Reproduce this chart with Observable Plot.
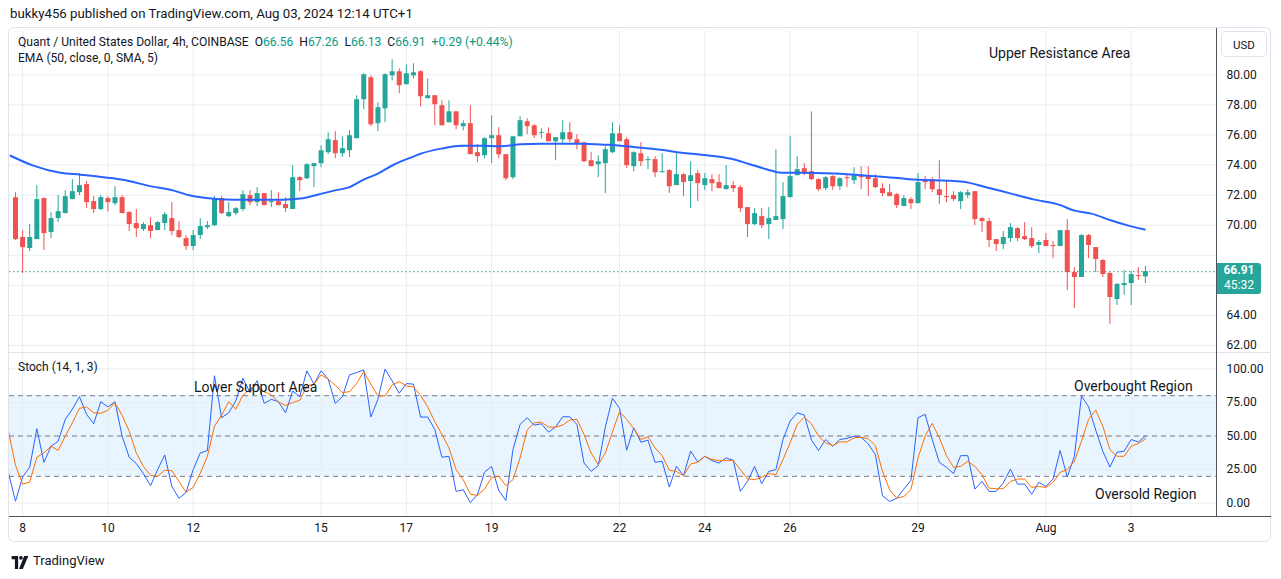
<!DOCTYPE html>
<html><head><meta charset="utf-8">
<script src="https://cdn.jsdelivr.net/npm/d3@7"></script>
<script src="https://cdn.jsdelivr.net/npm/@observablehq/plot@0.6"></script>
<style>
body{margin:0;background:#fff;font-family:Roboto,"Liberation Sans",sans-serif;color:#131722}
#wrap{position:relative;width:1281px;height:579px;overflow:hidden;background:#fff}
.abs{position:absolute;white-space:nowrap}
.ln{position:absolute}
</style></head><body><div id="wrap"></div>
<script>
// ---- data (4h candles, index 0 = first visible candle) ----
const open = [71.83,69.18,68.45,69.04,71.77,69.51,70.44,70.77,71.70,72.16,
72.70,71.57,71.04,71.77,71.43,71.83,70.84,70.11,69.71,69.97,
69.64,70.11,70.44,69.64,69.11,68.58,69.31,69.84,69.97,71.77,
70.57,70.77,71.04,71.97,71.50,72.10,71.50,71.57,71.37,71.04,
73.16,73.09,73.89,74.09,74.82,75.62,74.75,74.95,75.75,78.34,
79.80,76.75,77.74,79.93,80.20,79.34,79.93,80.20,78.41,78.61,
77.94,76.81,77.54,76.55,76.75,74.82,74.62,75.75,75.95,74.69,
73.16,75.88,76.88,76.61,76.10,76.08,75.55,75.68,76.15,75.68,
75.48,74.29,74.02,74.09,74.82,76.08,75.68,73.89,74.75,74.29,
74.36,73.49,73.63,72.63,73.36,72.90,73.43,72.63,73.03,72.83,
72.36,72.63,72.50,71.17,70.04,70.57,70.04,70.31,70.37,71.83,
73.29,73.76,73.56,73.03,72.43,73.23,72.56,73.16,72.96,73.29,
73.29,73.09,72.43,72.16,72.03,71.24,71.70,71.43,73.03,73.03,
72.36,71.90,71.97,71.57,71.97,72.23,70.44,70.24,69.04,68.71,
69.11,69.77,69.24,69.11,68.65,68.98,68.65,68.58,69.64,66.85,
66.52,69.31,68.51,67.65,66.79,65.06,65.99,66.12,66.65,66.56];
const high = [72.16,69.64,70.04,72.63,71.83,70.84,71.97,72.30,73.03,73.43,
72.90,71.90,71.97,71.90,72.56,71.97,70.90,71.04,70.17,70.50,
70.24,70.84,71.50,70.24,69.31,69.64,70.44,70.24,71.90,71.90,
71.50,71.17,72.30,72.30,72.50,72.10,72.30,72.16,71.83,73.96,
73.23,74.09,74.09,75.29,76.15,76.22,75.88,76.28,78.61,80.07,
79.93,78.14,80.07,81.00,80.40,80.66,80.73,80.27,79.73,78.61,
78.27,78.27,77.54,76.95,77.94,75.35,75.82,77.28,76.48,74.69,
75.88,77.21,77.08,76.68,76.41,76.48,75.82,76.95,76.81,76.02,
75.48,74.82,74.62,75.22,76.81,76.61,75.82,74.89,75.48,74.56,
74.56,74.75,73.69,74.75,73.43,74.22,73.63,73.43,73.36,73.36,
73.96,72.90,72.63,71.17,71.10,71.10,71.17,75.02,72.83,75.88,
74.56,74.09,77.54,73.09,73.23,73.29,73.16,73.36,73.82,73.89,
73.89,73.36,72.76,72.70,72.10,71.97,71.83,73.43,73.23,73.16,
74.29,72.96,72.23,72.23,72.36,72.23,70.50,70.44,69.04,69.58,
70.11,69.84,70.17,69.84,68.98,69.44,68.91,69.64,70.37,67.18,
69.38,69.38,68.51,67.72,66.92,66.12,66.98,66.92,67.18,67.26];
const low = [68.98,66.79,68.25,69.04,68.31,69.11,70.17,70.77,71.70,71.97,
71.10,70.77,70.97,70.90,71.30,70.77,69.58,69.18,69.58,69.11,
69.64,69.64,69.31,69.11,68.31,68.31,69.04,69.71,69.91,70.70,
70.50,70.64,70.90,71.30,71.24,71.30,71.17,71.30,70.84,71.04,
72.23,73.03,72.50,73.82,74.69,74.42,74.49,74.49,75.75,77.68,
76.55,76.22,76.81,79.60,78.74,79.34,79.73,77.88,78.41,76.61,
76.61,76.81,76.35,76.28,74.69,74.16,74.42,74.09,74.42,72.96,
73.03,75.88,76.02,75.75,75.75,75.55,74.29,75.35,75.48,75.02,
74.16,73.89,73.16,72.10,74.75,75.55,73.76,73.56,73.89,73.69,
73.16,73.49,72.10,72.63,71.90,71.10,71.57,72.30,72.23,72.43,
72.36,72.16,70.84,69.18,69.97,69.77,69.04,70.31,69.71,71.83,
73.29,73.29,72.96,72.23,72.30,72.30,72.30,72.50,72.70,72.36,
71.90,72.43,71.90,71.90,71.10,71.24,71.04,71.43,72.36,72.16,
71.37,71.50,71.57,71.04,71.77,69.97,69.51,68.51,68.25,68.38,
68.85,68.91,68.98,68.45,68.11,68.58,67.78,68.58,65.66,64.46,
66.52,67.78,66.85,66.52,63.40,64.66,65.33,64.66,66.32,66.13];
const close = [69.04,68.51,69.18,71.70,69.44,70.44,70.90,71.90,72.23,72.63,
71.50,71.04,71.83,71.50,71.83,70.77,70.04,69.77,70.04,69.58,
70.17,70.70,69.58,69.18,68.58,69.31,69.91,69.97,71.77,70.77,
70.84,71.10,72.03,71.50,72.10,71.30,71.57,71.30,71.10,73.16,
72.96,74.02,74.09,74.95,75.68,74.75,75.09,75.95,78.34,80.00,
76.68,77.81,80.00,80.20,79.27,80.07,80.13,78.54,78.61,78.01,
76.61,77.54,76.61,76.75,74.69,74.56,75.75,75.95,74.69,73.09,
75.88,76.95,76.55,75.95,76.15,75.55,75.82,76.15,75.68,75.42,
74.22,73.89,74.22,75.02,76.08,75.55,73.96,74.82,74.22,74.36,
73.49,73.56,72.56,73.36,72.83,73.29,72.76,73.09,72.76,72.43,
72.63,72.43,71.10,70.04,70.77,69.97,70.44,70.57,71.90,73.23,
73.69,73.43,73.03,72.36,73.16,72.56,73.09,73.09,73.29,73.16,
73.03,72.50,72.10,71.90,71.30,71.77,71.43,72.83,72.83,72.36,
71.97,71.83,71.70,72.16,72.16,70.37,70.24,68.98,68.71,69.18,
69.84,69.11,69.04,68.58,68.85,68.58,68.58,69.64,66.85,66.52,
69.31,68.65,67.72,66.72,65.19,66.06,66.12,66.72,66.59,66.91];

// EMA(50) at candle positions
const emaIdx = [-0.7,2.5,6.3,9.2,13,15.8,18.6,22.3,24.6,26.5,30.7,37.7,40.1,42.5,44.8,46.8,49,51,53.2,55.6,57,59.9,62.7,65.5,68.3,71.1,73.9,79.6,83.1,85.2,88,90.8,93.7,96.5,100.7,103.1,105.9,107.7,110.6,115.2,120,123.7,126.5,131.3,134.1,136.3,140.1,143.4,146.8,149,151.4,154.2,156.6,158.9];
const emaVal = [74.62,73.96,73.49,73.36,73.16,72.96,72.63,72.30,71.97,71.83,71.70,71.70,71.77,72.03,72.30,72.50,73.03,73.43,74.02,74.49,74.75,75.09,75.29,75.29,75.25,75.38,75.42,75.42,75.35,75.29,75.15,75.02,74.82,74.69,74.42,74.09,73.69,73.49,73.49,73.43,73.29,73.16,73.03,72.96,72.83,72.56,72.10,71.70,71.37,70.97,70.77,70.31,69.97,69.71];

// Stochastic (14,1,3), first value belongs to candle index -1
const stochStart = -1;
const stochK = [22.8,
1.5,19.5,26.7,55.4,30.4,42.4,46.1,62.4,69.9,79.3,
66.1,59.1,75.5,71.6,75.5,49.9,34.2,29.5,22,13,
25,35.9,12.5,3.7,8,25,37.4,39.2,94.8,63.6,
67.3,76.1,93,82.3,91.2,74.3,77.3,75.5,67.3,83.5,
79.3,98.5,88.6,98.5,92.3,74.3,79.3,95.5,97.2,99.2,
64.1,77.3,99.8,91,81.8,89,88.6,64.1,64.1,54.9,
34.2,34.9,8.8,10,0.5,6.3,23.2,27.4,9.5,2,
39.9,58.6,63.6,58.1,59.1,52.9,56.8,64.3,64.3,58.6,
29.9,23.7,28,56.6,78.1,70.6,39.4,56.1,45.4,46.9,
30.4,31.2,12,27.4,20.5,38.7,30.7,34.9,31.7,29.9,
33.7,31.9,8.8,16.2,27.4,14.5,23.7,25,47.4,61.1,
67.3,65.6,47,39.2,47.4,42.4,47.4,48.2,49.9,49.1,
44.1,36.2,5.5,1.3,3.7,10.5,17,63.6,66.1,47.4,
30.4,26.7,22,35.4,35.4,10.5,16.2,8.8,8.8,15,
25.4,14.2,14.2,6.7,15.5,12.5,18,39.2,19.5,34.9,
79.8,71.8,54.4,38.7,26.9,37.9,38.7,47.4,45.6,49.9];
const stochD = [53.8,
28.2,14.2,15.7,34.2,37.4,42.4,39.2,49.9,59.8,70.6,
71.6,67.3,66.9,69.1,74.8,65.4,53.6,37.4,27.4,20.7,
20,24.5,24.2,16.2,8.2,11.7,22.4,34.9,57.4,65.4,
75.5,69.9,80.3,84.8,88.6,82.8,80.6,75.3,72.8,74.8,
76.6,87.3,88.6,95.5,92.3,87.8,82.3,83,89,98,
88.6,79.8,79.8,88,90.5,87.3,86.5,80.3,71.8,60.6,
51.2,41.1,25,17.5,6.7,5.8,10.5,19.2,20,13.2,
17.5,33.7,54.4,59.8,60.4,56.6,56.6,58.1,61.9,62.4,
51.2,37.4,28.7,37.4,53.1,68.1,62.4,55.6,47.4,49.4,
41.1,35.4,24.5,23.7,20.5,29.2,30.4,34.9,32.5,31.7,
31.7,31.7,25,18.2,17.5,19.2,22,21.2,32.5,44.9,
58.6,64,59.1,49.9,44.9,42.9,45.6,45.6,48.6,49.1,
47.9,42.9,23.7,10,3.7,5,10,33.7,49.9,59.4,
48.6,35.4,26.7,27.4,31.2,27.4,21.2,11.2,10.8,10.8,
16.2,18,18,11.7,12.5,11.7,15.5,23,25,31.2,
46.1,62.4,69.3,57.4,39.9,34.9,34.9,42.4,44.4,47.9];

const dateIdx = [1,13,25,43,55,67,85,97,109,127,145,157];
const dateLabels = ["8","10","12","15","17","19","22","24","26","29","Aug","3"];
const priceTicks = [62,64,66,68,70,72,74,76,78,80];
const stochTicks = [0,25,50,75,100];
const stochLevels = [20,50,80];
const stochBand = [{lo:20, hi:80}];

// ---- styling ----
const GREEN="#26a69a", RED="#ef5350", BLUE="#2962ff", ORANGE="#ff6d00", GRID="#e8edf3";
const X_DOMAIN=[-0.845,169];
const FONT='Roboto,"Liberation Sans",sans-serif';
const wrap=document.getElementById("wrap");

const candles=open.map((o,i)=>({i,o,h:high[i],l:low[i],c:close[i]}));
const up=candles.filter(d=>d.c>=d.o), down=candles.filter(d=>d.c<d.o);
const ema=emaIdx.map((i,k)=>({i,v:emaVal[k]}));
const kData=stochK.map((v,k)=>({i:stochStart+k,v}));
const dData=stochD.map((v,k)=>({i:stochStart+k,v}));
const last=candles[candles.length-1];
// axis labels hidden behind the last-price badge (as on the reference)
const priceLabelTicks=priceTicks.filter(t=>Math.abs(t-last.c)>1.2);

const common={width:1281,marginLeft:9,marginRight:65,marginTop:0,
  style:{fontSize:"12px",fontFamily:FONT,color:"#131722",background:"transparent",overflow:"visible"}};

const pricePlot=Plot.plot({...common,height:321,marginBottom:0,
  x:{domain:X_DOMAIN,axis:null},
  y:{domain:[61.535,82.879],axis:"right",ticks:priceLabelTicks,tickFormat:d=>d.toFixed(2),tickSize:0,tickPadding:10,label:null},
  marks:[
    Plot.ruleY(priceTicks,{stroke:GRID}),
    Plot.ruleX(dateIdx,{stroke:GRID}),
    Plot.ruleY([last.c],{stroke:GREEN,strokeDasharray:"1.5,2.5"}),
    Plot.ruleX(up,{x:"i",y1:"l",y2:"h",stroke:GREEN,strokeWidth:1}),
    Plot.ruleX(down,{x:"i",y1:"l",y2:"h",stroke:RED,strokeWidth:1}),
    Plot.ruleX(up,{x:"i",y1:"o",y2:"c",stroke:GREEN,strokeWidth:5}),
    Plot.ruleX(down,{x:"i",y1:"o",y2:"c",stroke:RED,strokeWidth:5}),
    Plot.line(ema,{x:"i",y:"v",stroke:BLUE,strokeWidth:2,curve:"monotone-x"})
  ]});
pricePlot.style.position="absolute";pricePlot.style.left="0px";pricePlot.style.top="31px";
wrap.appendChild(pricePlot);

const stochPlot=Plot.plot({...common,height:189,marginBottom:26,
  x:{domain:X_DOMAIN,ticks:dateIdx,tickFormat:i=>dateLabels[dateIdx.indexOf(i)],tickSize:0,tickPadding:7,label:null},
  y:{domain:[-9.9,111.4],axis:"right",ticks:stochTicks,tickFormat:d=>d.toFixed(2),tickSize:0,tickPadding:10,label:null},
  marks:[
    Plot.rect(stochBand,{x1:()=>X_DOMAIN[0],x2:()=>X_DOMAIN[1],y1:"lo",y2:"hi",fill:"#2196f3",fillOpacity:0.1}),
    Plot.ruleY(stochTicks,{stroke:GRID}),
    Plot.ruleX(dateIdx,{stroke:GRID}),
    Plot.ruleY(stochLevels,{stroke:"#787b86",strokeDasharray:"5,4"}),
    Plot.line(kData,{x:"i",y:"v",stroke:BLUE,strokeWidth:1,clip:true}),
    Plot.line(dData,{x:"i",y:"v",stroke:ORANGE,strokeWidth:1,clip:true})
  ]});
stochPlot.style.position="absolute";stochPlot.style.left="0px";stochPlot.style.top="353px";
wrap.appendChild(stochPlot);

// ---- frame lines ----
function line(l,t,w,h,c){const d=document.createElement("div");d.className="ln";
  Object.assign(d.style,{left:l+"px",top:t+"px",width:w+"px",height:h+"px",background:c});wrap.appendChild(d);}
const box=document.createElement("div");
Object.assign(box.style,{position:"absolute",left:"8px",top:"27px",width:"1263px",height:"515px",border:"1px solid #e0e3eb",borderRadius:"6px",boxSizing:"border-box"});
wrap.appendChild(box);
line(9,352,1262,1,"#e0e3eb");
line(1216,28,1,489,"#50535e");
line(9,516,1262,1,"#50535e");

// ---- texts ----
function txt(html,left,cy,size,opts={}){const d=document.createElement("div");d.className="abs";
  d.innerHTML=html;Object.assign(d.style,{left:left+"px",top:(cy-size*0.6)+"px",fontSize:size+"px",lineHeight:(size*1.2)+"px",color:"#131722"},opts);
  wrap.appendChild(d);return d;}
txt("bukky456 published on TradingView.com, Aug 03, 2024 12:14 UTC+1",10,14,13.25);
const T='<span style="color:#089981">';
txt(`Quant / United States Dollar, 4h, COINBASE&nbsp;&nbsp;O${T}${last.o.toFixed(2)}</span>&nbsp;&nbsp;H${T}${last.h.toFixed(2)}</span>&nbsp;&nbsp;L${T}${last.l.toFixed(2)}</span>&nbsp;&nbsp;C${T}${last.c.toFixed(2)}</span>&nbsp;&nbsp;${T}+0.29 (+0.44%)</span>`,18,42,12.1);
txt("EMA (50, close, 0, SMA, 5)",18,58,12.1);
txt("Upper Resistance Area",989,53,14);
txt("Stoch (14, 1, 3)",18,367,12);
txt("Lower Support Area",194,387,14);
txt("Overbought Region",1074,386,14);
txt("Oversold Region",1095,494,14);

// USD button
txt("USD",1221,44,11.5,{width:"46px",height:"26px",lineHeight:"26px",top:"31px",textAlign:"center",border:"1px solid #e0e3eb",borderRadius:"4px",boxSizing:"border-box"});

// last price label
const yc=31+pricePlot.scale("y").apply(last.c);
const lab=document.createElement("div");lab.className="abs";
Object.assign(lab.style,{left:"1217px",top:(yc-8)+"px",width:"44px",height:"31px",background:GREEN,color:"#fff",fontSize:"12px",lineHeight:"15px",textAlign:"center",borderRadius:"0 3px 3px 0",fontWeight:"bold"});
lab.innerHTML=last.c.toFixed(2)+'<br><span style="font-weight:normal">45:32</span>';
wrap.appendChild(lab);

// TradingView logo
const logo=document.createElement("div");logo.className="abs";
Object.assign(logo.style,{left:"10px",top:"554px"});
logo.innerHTML='<svg width="20" height="13" viewBox="0 0 36 28"><path d="M0 0h14v28H7V7H0z" fill="#131722"/><circle cx="20" cy="4" r="4" fill="#131722"/><path d="M24 28h-8L27 0h9z" fill="#131722"/></svg>';
wrap.appendChild(logo);
txt("TradingView",33,561,13);
</script></body></html>
